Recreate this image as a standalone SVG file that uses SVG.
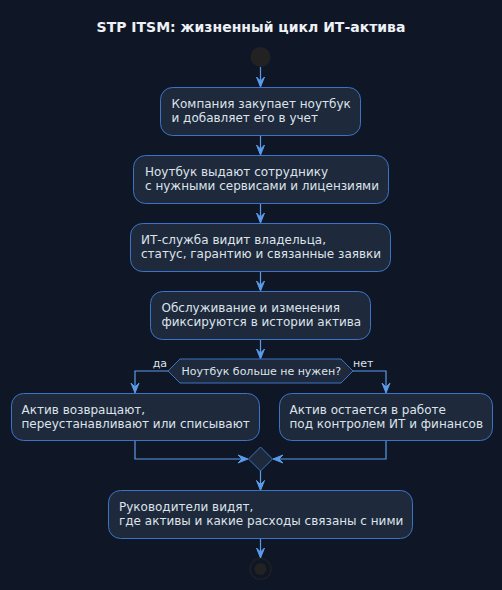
<svg xmlns="http://www.w3.org/2000/svg" width="502" height="590" viewBox="0 0 502 590">
<defs>
<style>
.bg{fill:#0f1726}
.box{fill:#1e293b;stroke:#3b74c4;stroke-width:1}
.t{font-family:"DejaVu Sans",sans-serif;font-size:12px;fill:#dde3ea}
.s{font-family:"DejaVu Sans",sans-serif;font-size:11px;fill:#dde3ea}
.title{font-family:"DejaVu Sans",sans-serif;font-size:14px;font-weight:bold;fill:#eef2f7}
.ln{fill:none;stroke:#5a9bea;stroke-width:1.2}
.ah{fill:#5a9bea;stroke:#5a9bea;stroke-width:1}
</style>
</defs>
<rect class="bg" x="0" y="0" width="502" height="590"/>
<text class="title" x="251" y="32" text-anchor="middle">STP ITSM: жизненный цикл ИТ-актива</text>

<g id="connectors">
<line class="ln" x1="260.5" y1="67" x2="260.5" y2="86"/>
<polygon class="ah" points="256.5,77 260.5,87 264.5,77 260.5,81"/>
<line class="ln" x1="260.5" y1="135.5" x2="260.5" y2="154"/>
<polygon class="ah" points="256.5,145 260.5,155 264.5,145 260.5,149"/>
<line class="ln" x1="260.5" y1="203.5" x2="260.5" y2="222"/>
<polygon class="ah" points="256.5,213 260.5,223 264.5,213 260.5,217"/>
<line class="ln" x1="260.5" y1="271.5" x2="260.5" y2="290"/>
<polygon class="ah" points="256.5,281 260.5,291 264.5,281 260.5,285"/>
<line class="ln" x1="260.5" y1="339.5" x2="260.5" y2="358"/>
<polygon class="ah" points="256.5,349 260.5,359 264.5,349 260.5,353"/>
<polyline class="ln" points="168,371 135,371 135,392"/>
<polygon class="ah" points="131,383 135,393 139,383 135,387"/>
<polyline class="ln" points="353,371 386,371 386,392"/>
<polygon class="ah" points="382,383 386,393 390,383 386,387"/>
<polyline class="ln" points="135,440.5 135,459 247,459"/>
<polygon class="ah" points="238,455 248,459 238,463 242,459"/>
<polyline class="ln" points="386,440.5 386,459 274,459"/>
<polygon class="ah" points="283,455 273,459 283,463 279,459"/>
<line class="ln" x1="260.5" y1="471" x2="260.5" y2="489"/>
<polygon class="ah" points="256.5,480.5 260.5,490.5 264.5,480.5 260.5,484.5"/>
<line class="ln" x1="260.5" y1="538.5" x2="260.5" y2="557"/>
<polygon class="ah" points="256.5,548 260.5,558 264.5,548 260.5,552"/>
</g>

<g id="start"><circle cx="260.5" cy="57" r="10" fill="#222222"/></g>

<g id="n1">
<rect class="box" x="160.5" y="87.5" width="200" height="48" rx="12"/>
<text class="t" x="171.5" y="108">Компания закупает ноутбук</text>
<text class="t" x="171.5" y="122">и добавляет его в учет</text>
</g>
<g id="n2">
<rect class="box" x="133.5" y="155.5" width="255" height="48" rx="12"/>
<text class="t" x="145" y="176">Ноутбук выдают сотруднику</text>
<text class="t" x="145" y="190">с нужными сервисами и лицензиями</text>
</g>
<g id="n3">
<rect class="box" x="130.5" y="223.5" width="260" height="48" rx="12"/>
<text class="t" x="141" y="244">ИТ-служба видит владельца,</text>
<text class="t" x="141" y="258">статус, гарантию и связанные заявки</text>
</g>
<g id="n4">
<rect class="box" x="150.5" y="291.5" width="220" height="48" rx="12"/>
<text class="t" x="161.5" y="312">Обслуживание и изменения</text>
<text class="t" x="161.5" y="326">фиксируются в истории актива</text>
</g>
<g id="decision">
<polygon class="box" points="168,371 180,359 341,359 353,371 341,383 180,383"/>
<text class="s" x="181.5" y="375">Ноутбук больше не нужен?</text>
<text class="s" x="167" y="367" text-anchor="end">да</text>
<text class="s" x="353" y="367">нет</text>
</g>
<g id="yes">
<rect class="box" x="11.5" y="393.5" width="248" height="47" rx="12"/>
<text class="t" x="21.5" y="414">Актив возвращают,</text>
<text class="t" x="21.5" y="428">переустанавливают или списывают</text>
</g>
<g id="no">
<rect class="box" x="279.5" y="393.5" width="213" height="47" rx="12"/>
<text class="t" x="289.5" y="414">Актив остается в работе</text>
<text class="t" x="289.5" y="428">под контролем ИТ и финансов</text>
</g>
<g id="merge">
<polygon class="box" points="260.5,447 272.5,459 260.5,471 248.5,459"/>
</g>
<g id="n5">
<rect class="box" x="108.5" y="490.5" width="304" height="48" rx="12"/>
<text class="t" x="119" y="511">Руководители видят,</text>
<text class="t" x="119" y="525">где активы и какие расходы связаны с ними</text>
</g>
<g id="end">
<circle cx="260.5" cy="569" r="10.5" fill="none" stroke="#222222" stroke-width="1.2"/>
<circle cx="260.5" cy="569" r="6" fill="#222222"/>
</g>
</svg>
